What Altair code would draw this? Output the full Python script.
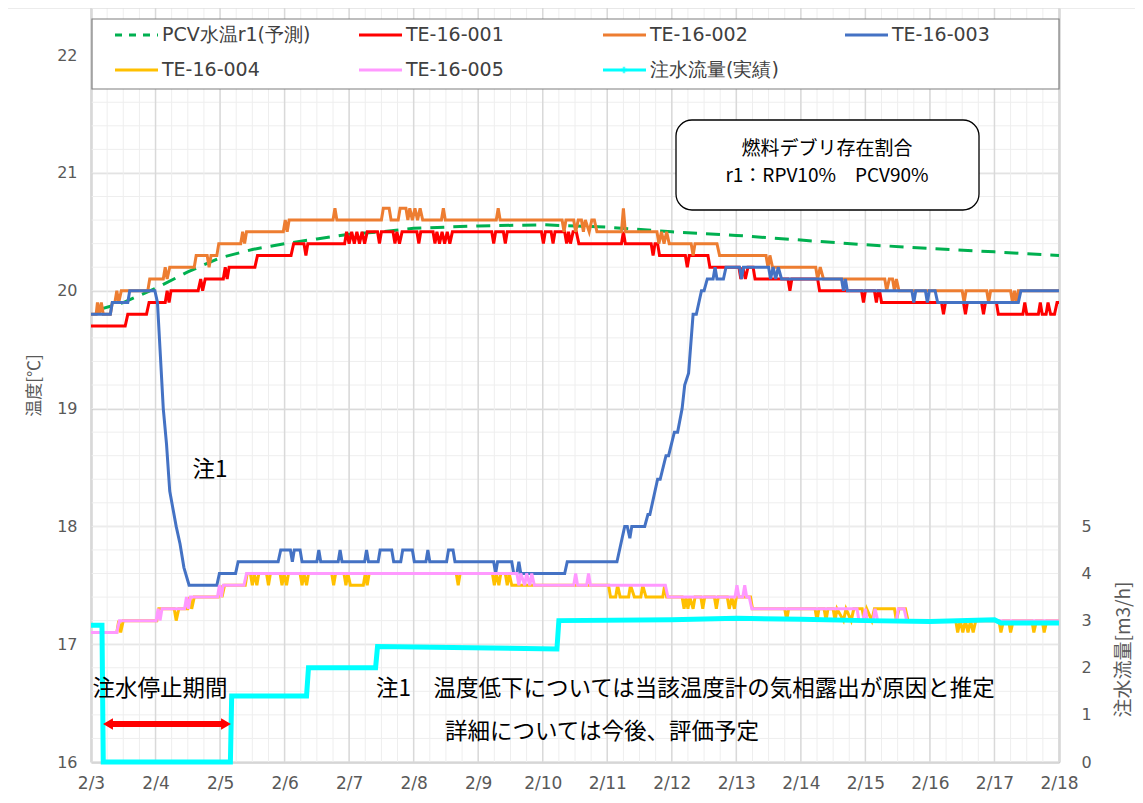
import altair as alt
import pandas as pd

# ---------------- data (day of February, value) ----------------
pcv_r1 = [(3.12, 19.84), (3.5, 19.90), (4.0, 20.02), (4.5, 20.16), (5.0, 20.28), (5.5, 20.35),
          (6.0, 20.40), (6.5, 20.44), (7.0, 20.48), (7.5, 20.50), (8.0, 20.53), (9.0, 20.55),
          (10.0, 20.56), (11.0, 20.54), (12.0, 20.50), (13.0, 20.47), (14.0, 20.43), (15.0, 20.39),
          (16.0, 20.36), (17.0, 20.33), (18.0, 20.30)]

te_001 = [(3.00, 19.7), (3.53, 19.7), (3.57, 19.8), (3.86, 19.8), (3.90, 19.9), (4.15, 19.9), (4.18, 20.0),
          (4.21, 19.9), (4.24, 20.0), (4.66, 20.0), (4.70, 20.1), (4.73, 20.0), (4.77, 20.1), (5.05, 20.1),
          (5.08, 20.2), (5.11, 20.1), (5.14, 20.2), (5.54, 20.2), (5.58, 20.3), (6.10, 20.3), (6.14, 20.4),
          (6.30, 20.4), (6.33, 20.3), (6.36, 20.4), (6.93, 20.4), (6.96, 20.5), (7.00, 20.4), (7.04, 20.5),
          (7.08, 20.4), (7.12, 20.5), (7.16, 20.4), (7.20, 20.5), (7.24, 20.4), (7.28, 20.5), (7.44, 20.5),
          (7.47, 20.4), (7.50, 20.5), (7.68, 20.5), (7.71, 20.4), (7.74, 20.5), (7.78, 20.4), (7.82, 20.5),
          (8.05, 20.5), (8.08, 20.4), (8.11, 20.5), (8.30, 20.5), (8.33, 20.4), (8.36, 20.5), (8.40, 20.4),
          (8.44, 20.5), (8.48, 20.4), (8.52, 20.5), (8.56, 20.4), (8.60, 20.5), (9.21, 20.5), (9.24, 20.4),
          (9.27, 20.5), (9.39, 20.5), (9.42, 20.4), (9.45, 20.5), (9.98, 20.5), (10.01, 20.4), (10.04, 20.5),
          (10.13, 20.5), (10.16, 20.4), (10.19, 20.5), (10.34, 20.5), (10.37, 20.4), (10.40, 20.5),
          (10.43, 20.4), (10.47, 20.5), (10.52, 20.5), (10.56, 20.4), (11.22, 20.4), (11.25, 20.5),
          (11.28, 20.4), (11.68, 20.4), (11.71, 20.3), (11.74, 20.4), (11.78, 20.4), (11.81, 20.3),
          (12.21, 20.3), (12.24, 20.2), (12.27, 20.3), (12.56, 20.3), (12.59, 20.2), (13.04, 20.2),
          (13.07, 20.1), (13.10, 20.2), (13.14, 20.1), (13.18, 20.2), (13.26, 20.2), (13.29, 20.1),
          (13.80, 20.1), (13.83, 20.0), (13.86, 20.1), (14.26, 20.1), (14.29, 20.0), (14.94, 20.0),
          (14.97, 19.9), (15.00, 20.0), (15.14, 20.0), (15.17, 19.9), (15.20, 20.0), (15.22, 20.0),
          (15.25, 19.9), (16.18, 19.9), (16.21, 19.8), (16.24, 19.9), (16.52, 19.9), (16.55, 19.8),
          (16.58, 19.9), (16.80, 19.9), (16.83, 19.8), (16.86, 19.9), (17.03, 19.9), (17.06, 19.8),
          (17.44, 19.8), (17.47, 19.9), (17.50, 19.8), (17.68, 19.8), (17.71, 19.9), (17.74, 19.8),
          (17.80, 19.8), (17.83, 19.9), (17.87, 19.8), (17.93, 19.8), (17.97, 19.9), (18.00, 19.9)]

te_002 = [(3.00, 19.8), (3.08, 19.8), (3.10, 19.9), (3.13, 19.8), (3.16, 19.9), (3.19, 19.8), (3.30, 19.8),
          (3.33, 19.9), (3.37, 19.9), (3.40, 20.0), (3.43, 19.9), (3.47, 20.0), (3.88, 20.0), (3.91, 20.1),
          (4.12, 20.1), (4.15, 20.2), (4.18, 20.1), (4.22, 20.2), (4.60, 20.2), (4.63, 20.3), (4.80, 20.3),
          (4.83, 20.2), (4.86, 20.3), (4.95, 20.3), (4.98, 20.4), (5.32, 20.4), (5.35, 20.5), (5.38, 20.4),
          (5.41, 20.5), (5.98, 20.5), (6.01, 20.6), (6.04, 20.5), (6.07, 20.6), (6.75, 20.6), (6.78, 20.7),
          (6.81, 20.6), (7.50, 20.6), (7.53, 20.7), (7.62, 20.7), (7.65, 20.6), (7.76, 20.6), (7.79, 20.7),
          (7.88, 20.7), (7.91, 20.6), (7.94, 20.7), (7.98, 20.6), (8.02, 20.7), (8.06, 20.6), (8.10, 20.7),
          (8.14, 20.6), (8.43, 20.6), (8.46, 20.7), (8.49, 20.6), (9.28, 20.6), (9.31, 20.7), (9.34, 20.6),
          (10.30, 20.6), (10.33, 20.5), (10.36, 20.6), (10.48, 20.6), (10.51, 20.5), (10.55, 20.6),
          (10.60, 20.6), (10.63, 20.5), (10.66, 20.6), (10.72, 20.5), (10.76, 20.6), (10.80, 20.6),
          (10.84, 20.5), (11.22, 20.5), (11.25, 20.7), (11.28, 20.5), (11.77, 20.5), (11.80, 20.4),
          (11.84, 20.5), (11.88, 20.4), (11.92, 20.5), (11.96, 20.4), (12.30, 20.4), (12.33, 20.3),
          (12.36, 20.4), (12.70, 20.4), (12.74, 20.3), (13.46, 20.3), (13.49, 20.2), (13.52, 20.3),
          (13.56, 20.2), (14.23, 20.2), (14.26, 20.1), (14.30, 20.2), (14.35, 20.1), (15.30, 20.1),
          (15.33, 20.0), (15.37, 20.1), (15.42, 20.1), (15.45, 20.0), (15.48, 20.1), (15.52, 20.0),
          (16.50, 20.0), (16.53, 19.9), (16.56, 20.0), (16.88, 20.0), (16.91, 19.9), (16.94, 20.0),
          (17.25, 20.0), (17.28, 19.9), (17.31, 20.0), (17.34, 19.9), (17.37, 20.0), (18.00, 20.0)]

te_003 = [(3.00, 19.8), (3.30, 19.8), (3.33, 19.9), (3.57, 19.9), (3.60, 20.0), (3.99, 20.0), (4.03, 19.9),
          (4.07, 19.5), (4.12, 19.0), (4.17, 18.7), (4.22, 18.3), (4.27, 18.15), (4.32, 18.0), (4.38, 17.85),
          (4.44, 17.65), (4.52, 17.5), (4.95, 17.5), (4.99, 17.6), (5.24, 17.6), (5.28, 17.7), (5.90, 17.7),
          (5.94, 17.8), (6.09, 17.8), (6.12, 17.7), (6.15, 17.8), (6.24, 17.8), (6.27, 17.7), (6.50, 17.7),
          (6.53, 17.8), (6.56, 17.7), (6.83, 17.7), (6.86, 17.8), (6.89, 17.7), (7.24, 17.7), (7.27, 17.8),
          (7.30, 17.7), (7.45, 17.7), (7.48, 17.8), (7.66, 17.8), (7.69, 17.7), (7.80, 17.7), (7.83, 17.8),
          (7.98, 17.8), (8.01, 17.7), (8.19, 17.7), (8.22, 17.8), (8.25, 17.7), (8.51, 17.7), (8.54, 17.8),
          (8.61, 17.8), (8.64, 17.7), (9.24, 17.7), (9.27, 17.6), (9.30, 17.7), (9.52, 17.7), (9.55, 17.6),
          (9.60, 17.6), (9.63, 17.7), (9.66, 17.6), (10.34, 17.6), (10.38, 17.7), (11.15, 17.7),
          (11.27, 18.0), (11.31, 18.0), (11.35, 17.9), (11.38, 18.0), (11.58, 18.0), (11.63, 18.1),
          (11.66, 18.1), (11.78, 18.4), (11.82, 18.4), (11.91, 18.6), (11.95, 18.6), (12.04, 18.8),
          (12.09, 18.8), (12.16, 19.0), (12.20, 19.2), (12.26, 19.3), (12.33, 19.8), (12.38, 19.8),
          (12.46, 20.0), (12.50, 20.0), (12.55, 20.1), (12.64, 20.1), (12.67, 20.2), (12.70, 20.1),
          (12.80, 20.1), (12.84, 20.2), (13.05, 20.2), (13.08, 20.1), (13.11, 20.2), (13.50, 20.2),
          (13.53, 20.1), (13.57, 20.2), (13.61, 20.1), (13.65, 20.2), (13.70, 20.1), (14.63, 20.1),
          (14.66, 20.0), (14.69, 20.1), (14.72, 20.0), (15.72, 20.0), (15.75, 19.9), (15.78, 20.0),
          (15.93, 20.0), (15.96, 19.9), (15.99, 20.0), (16.08, 20.0), (16.12, 19.9), (17.37, 19.9),
          (17.41, 20.0), (18.00, 20.0)]

te_004 = [(3.00, 17.1), (3.40, 17.1), (3.43, 17.2), (3.46, 17.1), (3.50, 17.2), (4.02, 17.2), (4.05, 17.3),
          (4.29, 17.3), (4.32, 17.2), (4.36, 17.3), (4.50, 17.3), (4.53, 17.4), (4.56, 17.3), (4.60, 17.4),
          (4.97, 17.4), (5.00, 17.5), (5.03, 17.4), (5.07, 17.5), (5.39, 17.5), (5.42, 17.6), (5.47, 17.6),
          (5.50, 17.5), (5.53, 17.6), (5.57, 17.5), (5.60, 17.6), (5.72, 17.6), (5.75, 17.5), (5.78, 17.6),
          (5.93, 17.6), (5.96, 17.5), (5.99, 17.6), (6.03, 17.5), (6.06, 17.6), (6.24, 17.6), (6.27, 17.5),
          (6.30, 17.6), (6.34, 17.5), (6.37, 17.6), (6.73, 17.6), (6.76, 17.5), (6.79, 17.6), (6.92, 17.6),
          (6.95, 17.5), (6.98, 17.6), (7.02, 17.5), (7.22, 17.5), (7.25, 17.6), (7.28, 17.5), (7.31, 17.6),
          (8.66, 17.6), (8.69, 17.5), (8.72, 17.6), (9.22, 17.6), (9.25, 17.5), (9.28, 17.6), (9.32, 17.5),
          (9.35, 17.6), (9.42, 17.6), (9.45, 17.5), (9.48, 17.6), (9.52, 17.5), (11.02, 17.5), (11.05, 17.4),
          (11.13, 17.4), (11.16, 17.5), (11.20, 17.4), (11.33, 17.4), (11.36, 17.5), (11.42, 17.4),
          (11.52, 17.4), (11.55, 17.5), (11.60, 17.4), (11.86, 17.4), (11.89, 17.5), (11.92, 17.4),
          (12.16, 17.4), (12.19, 17.3), (12.22, 17.4), (12.25, 17.3), (12.28, 17.4), (12.33, 17.3),
          (12.36, 17.4), (12.45, 17.4), (12.48, 17.3), (12.51, 17.4), (12.66, 17.4), (12.69, 17.3),
          (12.72, 17.4), (12.86, 17.4), (12.89, 17.3), (12.93, 17.4), (12.97, 17.3), (13.00, 17.4),
          (13.22, 17.4), (13.25, 17.3), (13.75, 17.3), (13.78, 17.2), (13.81, 17.3), (14.22, 17.3),
          (14.25, 17.2), (14.28, 17.3), (14.36, 17.3), (14.39, 17.2), (14.42, 17.3), (14.50, 17.3),
          (14.53, 17.2), (14.56, 17.3), (14.66, 17.2), (14.70, 17.3), (14.78, 17.2), (14.82, 17.3),
          (14.95, 17.3), (14.98, 17.2), (15.02, 17.3), (15.10, 17.2), (15.14, 17.3), (15.45, 17.3),
          (15.48, 17.2), (15.52, 17.3), (15.62, 17.3), (15.66, 17.2), (16.40, 17.2), (16.43, 17.1),
          (16.47, 17.2), (16.51, 17.1), (16.55, 17.2), (16.59, 17.1), (16.63, 17.2), (16.67, 17.1),
          (16.71, 17.2), (17.07, 17.2), (17.10, 17.1), (17.14, 17.2), (17.22, 17.2), (17.25, 17.1),
          (17.29, 17.2), (17.58, 17.2), (17.61, 17.1), (17.65, 17.2), (17.74, 17.2), (17.77, 17.1),
          (17.81, 17.2), (18.00, 17.2)]

te_005 = [(3.00, 17.1), (3.40, 17.1), (3.44, 17.2), (4.01, 17.2), (4.04, 17.3), (4.07, 17.2), (4.10, 17.3),
          (4.45, 17.3), (4.48, 17.4), (4.51, 17.3), (4.54, 17.4), (4.96, 17.4), (4.99, 17.5), (5.02, 17.4),
          (5.05, 17.5), (5.37, 17.5), (5.41, 17.6), (9.60, 17.6), (9.63, 17.5), (9.66, 17.6), (9.72, 17.5),
          (9.75, 17.6), (9.80, 17.5), (9.83, 17.6), (9.87, 17.5), (10.48, 17.5), (10.51, 17.6),
          (10.54, 17.5), (10.68, 17.5), (10.71, 17.6), (10.74, 17.5), (11.90, 17.5), (11.94, 17.4),
          (12.98, 17.4), (13.01, 17.5), (13.04, 17.4), (13.10, 17.4), (13.13, 17.5), (13.16, 17.4),
          (13.20, 17.4), (13.24, 17.3), (14.87, 17.3), (14.90, 17.2), (14.96, 17.2), (15.00, 17.3),
          (15.03, 17.2), (15.12, 17.2), (15.15, 17.3), (15.19, 17.2), (15.48, 17.2), (15.51, 17.3),
          (15.60, 17.3), (15.64, 17.2), (18.00, 17.2)]

flow = [(3.00, 2.9), (3.17, 2.9), (3.19, 0.0), (5.16, 0.0), (5.18, 1.4), (6.34, 1.4), (6.37, 2.0),
        (7.41, 2.0), (7.44, 2.45), (10.22, 2.4), (10.25, 3.0), (12.0, 3.02), (13.0, 3.05), (14.0, 3.03),
        (15.0, 3.0), (16.0, 2.98), (17.0, 3.02), (17.1, 2.95), (18.0, 2.95)]

te_names = ["TE-16-001", "TE-16-002", "TE-16-003", "TE-16-004", "TE-16-005"]
te_colors = ["#FF0000", "#ED7D31", "#4472C4", "#FFC000", "#FF99FF"]
pcv_name, flow_name = "PCV水温r1(予測)", "注水流量(実績)"
pcv_color, flow_color = "#00B050", "#00FFFF"

y_major = [16, 17, 18, 19, 20, 21, 22]
y_minor = [round(16 + 0.2 * i, 1) for i in range(33)]
day_ticks = list(range(3, 19))
quarter_days = [3 + 0.25 * i for i in range(61)]
flow_ticks = [0, 1, 2, 3, 4, 5]

# ---------------- frames ----------------
BASE = pd.Timestamp("2020-02-01")


def to_time(d):
    return BASE + pd.to_timedelta(d - 1, unit="D")


def frame(name, pts):
    return pd.DataFrame({
        "t": [to_time(d) for d, _ in pts],
        "value": [v for _, v in pts],
        "series": name,
    })


te_df = pd.concat([frame(n, s) for n, s in zip(te_names, [te_001, te_002, te_003, te_004, te_005])],
                  ignore_index=True)
pcv_df = frame(pcv_name, pcv_r1)
flow_df = frame(flow_name, flow)

W, H = 968, 753
GRAY = "#595959"
MAJOR = "#D9D9D9"
MINOR = "#EEEEEE"
AXC = "#BFBFBF"
JP = "Noto Sans CJK JP"
LAT = "DejaVu Sans"

xs = alt.Scale(domain=[alt.DateTime(year=2020, month=2, date=3),
                       alt.DateTime(year=2020, month=2, date=18)])
ys = alt.Scale(domain=[16, 22.4], nice=False, zero=False)
fsc = alt.Scale(domain=[0, 16], nice=False, zero=True)

X_AX = alt.Axis(orient="bottom", grid=False,
                values=[alt.DateTime(year=2020, month=2, date=d) for d in day_ticks],
                format="%-m/%-d", labelFontSize=17, labelColor=GRAY, labelFont=LAT,
                labelPadding=13, ticks=False, domain=True, domainColor=AXC, domainWidth=2,
                title=None, labelFlush=False)


def xenc():
    return alt.X("t:T", scale=xs, axis=X_AX)


# grid lines
vgrid_minor = alt.Chart(pd.DataFrame({"t": [to_time(d) for d in quarter_days]})).mark_rule(
    color=MINOR, strokeWidth=1).encode(x=xenc())
hgrid_minor = alt.Chart(pd.DataFrame({"v": y_minor})).mark_rule(color=MINOR, strokeWidth=1).encode(
    y=alt.Y("v:Q", scale=ys, axis=None))
vgrid_major = alt.Chart(pd.DataFrame({"t": [to_time(d) for d in day_ticks]})).mark_rule(
    color=MAJOR, strokeWidth=1.5).encode(x=xenc())

pcv_layer = alt.Chart(pcv_df).mark_line(color=pcv_color, strokeWidth=3, strokeDash=[14, 9]).encode(
    x=xenc(),
    y=alt.Y("value:Q", scale=ys, axis=alt.Axis(orient="left", grid=True, gridColor=MAJOR, gridWidth=1.5,
                                               values=y_major, labelFontSize=16, labelColor=GRAY,
                                               labelFont=LAT, labelPadding=14, ticks=False, domain=True,
                                               domainColor=AXC, domainWidth=2, title="温度[℃]",
                                               titleFont=JP, titleFontSize=17, titleColor=GRAY,
                                               titleFontWeight="normal", titlePadding=13)),
)

te_layer = alt.Chart(te_df).mark_line(strokeWidth=3).encode(
    x=xenc(),
    y=alt.Y("value:Q", scale=ys, axis=None),
    color=alt.Color("series:N", scale=alt.Scale(domain=te_names, range=te_colors), legend=None),
)

flow_layer = alt.Chart(flow_df).mark_line(color=flow_color, strokeWidth=5).encode(
    x=xenc(),
    y=alt.Y("value:Q", scale=fsc, axis=alt.Axis(orient="right", grid=False, values=flow_ticks,
                                                labelFontSize=16, labelColor=GRAY, labelFont=LAT,
                                                labelPadding=22, ticks=False, domain=True,
                                                domainColor=AXC, domainWidth=2, title="注水流量[m3/h]",
                                                titleFont=JP, titleFontSize=19, titleColor=GRAY,
                                                titleFontWeight="normal", titleAngle=270, titleX=64,
                                                titleY=641, titleAlign="center",
                                                titleBaseline="middle")),
)

one = pd.DataFrame({"k": [0]})


def text(s, x, y, size, align="left", font=JP, color="#000000"):
    return alt.Chart(one).mark_text(text=s, fontSize=size, font=font, align=align, baseline="middle",
                                    color=color).encode(x=alt.value(x), y=alt.value(y))


def hline(x1, x2, y, color, width, dash=None):
    kw = dict(color=color, strokeWidth=width)
    if dash:
        kw["strokeDash"] = dash
    return alt.Chart(one).mark_rule(**kw).encode(x=alt.value(x1), x2=alt.value(x2), y=alt.value(y))


annots = []
# outer chart-area top border
annots.append(hline(-91, 1052, 0, "#D9D9D9", 1))
# legend box
annots.append(alt.Chart(one).mark_rect(fill="white", stroke="#7F7F7F", strokeWidth=1.2).encode(
    x=alt.value(1), x2=alt.value(968), y=alt.value(11), y2=alt.value(81)))
legend_items = [(pcv_name, pcv_color, [7, 7]), (te_names[0], te_colors[0], None),
                (te_names[1], te_colors[1], None), (te_names[2], te_colors[2], None),
                (te_names[3], te_colors[3], None), (te_names[4], te_colors[4], None),
                (flow_name, flow_color, None)]
col_x = [24, 268, 512, 754]
row_y = [27, 62]
for i, (name, colr, dash) in enumerate(legend_items):
    cx = col_x[i % 4]
    ry = row_y[i // 4]
    annots.append(hline(cx, cx + 43, ry, colr, 3, dash))
    annots.append(text(name, cx + 47, ry, 19, font=LAT, color="#404040"))
annots.append(alt.Chart(one).mark_point(shape="cross", filled=True, color=flow_color, size=40).encode(
    x=alt.value(col_x[2] + 21), y=alt.value(row_y[1])))

# fuel debris box
annots.append(alt.Chart(one).mark_rect(fill="white", stroke="#000000", strokeWidth=1.3, cornerRadius=16).encode(
    x=alt.value(585), x2=alt.value(888), y=alt.value(112), y2=alt.value(202)))
annots.append(text("燃料デブリ存在割合", 736, 141, 19, align="center"))
annots.append(text("r1：RPV10%　PCV90%", 736, 168, 19, align="center"))

# notes
annots.append(text("注1", 119, 462, 22.5, align="center"))
annots.append(text("注水停止期間", 69, 681, 22.5, align="center"))
annots.append(text("注1　温度低下については当該温度計の気相露出が原因と推定", 285, 681, 22.5))
annots.append(text("詳細については今後、評価予定", 354, 724, 22.5))

# red double arrow
annots.append(hline(20, 132, 716, "#FF0000", 6))
annots.append(alt.Chart(one).mark_point(shape="triangle-left", filled=True, color="#FF0000", size=130,
                                        opacity=1).encode(x=alt.value(17), y=alt.value(716)))
annots.append(alt.Chart(one).mark_point(shape="triangle-right", filled=True, color="#FF0000", size=130,
                                        opacity=1).encode(x=alt.value(135), y=alt.value(716)))

chart = alt.layer(vgrid_minor, hgrid_minor, vgrid_major, pcv_layer, te_layer, flow_layer, *annots).resolve_scale(
    y="independent").properties(
    width=W, height=H + 1,
    autosize=alt.AutoSizeParams(type="none"),
    padding={"left": 83, "top": 0, "right": 76, "bottom": 33},
    background="white",
).configure_view(strokeWidth=0)

chart.save("out.html", embed_options={"renderer": "svg", "actions": False})
